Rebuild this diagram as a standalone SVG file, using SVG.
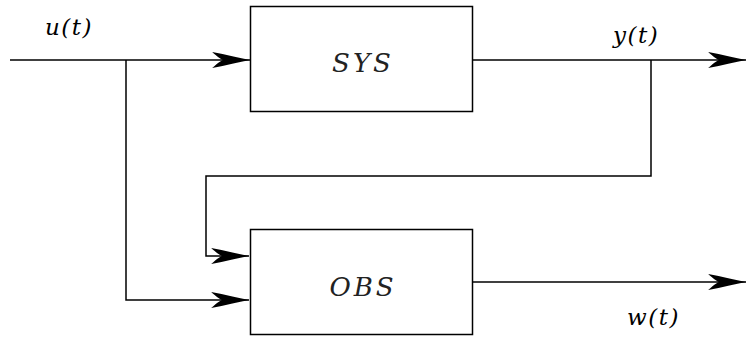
<svg xmlns="http://www.w3.org/2000/svg" width="747" height="338" viewBox="0 0 747 338">
<style>
.box{fill:#fff;stroke:#000;stroke-width:1.5}
.ln{fill:none;stroke:#000;stroke-width:1.5}
.lbl{font-family:"DejaVu Serif",serif;font-style:italic;font-size:23px;letter-spacing:1.5px;fill:#000}
.cal{font-family:"DejaVu Serif",serif;font-style:italic;font-size:26px;letter-spacing:3px;fill:#222;text-anchor:middle}
</style>
<defs>
<marker id="arr" markerUnits="userSpaceOnUse" markerWidth="40" markerHeight="20" viewBox="-36 -8 37 16" refX="0" refY="0" orient="auto">
<path d="M0,0 C-10,-2 -22,-5 -35,-7.5 C-30,-3 -28,-1.5 -25,0 C-28,1.5 -30,3 -35,7.5 C-22,5 -10,2 0,0 Z" fill="#000"/>
</marker>
</defs>
<g id="connectors">
<path class="ln" d="M10,60 H250" marker-end="url(#arr)"/>
<path class="ln" d="M126,60 V300 H249" marker-end="url(#arr)"/>
<path class="ln" d="M473,60 H746" marker-end="url(#arr)"/>
<path class="ln" d="M651,60 V176 H206 V256 H249" marker-end="url(#arr)"/>
<path class="ln" d="M473,282 H746" marker-end="url(#arr)"/>
</g>
<g id="sys">
<rect class="box" x="250.5" y="6.5" width="222" height="105"/>
<text class="cal" x="363" y="72">SYS</text>
</g>
<g id="obs">
<rect class="box" x="250.5" y="229.5" width="222" height="105"/>
<text class="cal" x="363" y="296">OBS</text>
</g>
<g id="labels">
<text class="lbl" x="45" y="35">u(t)</text>
<text class="lbl" x="613" y="43">y(t)</text>
<text class="lbl" x="627" y="325">w(t)</text>
</g>
</svg>
